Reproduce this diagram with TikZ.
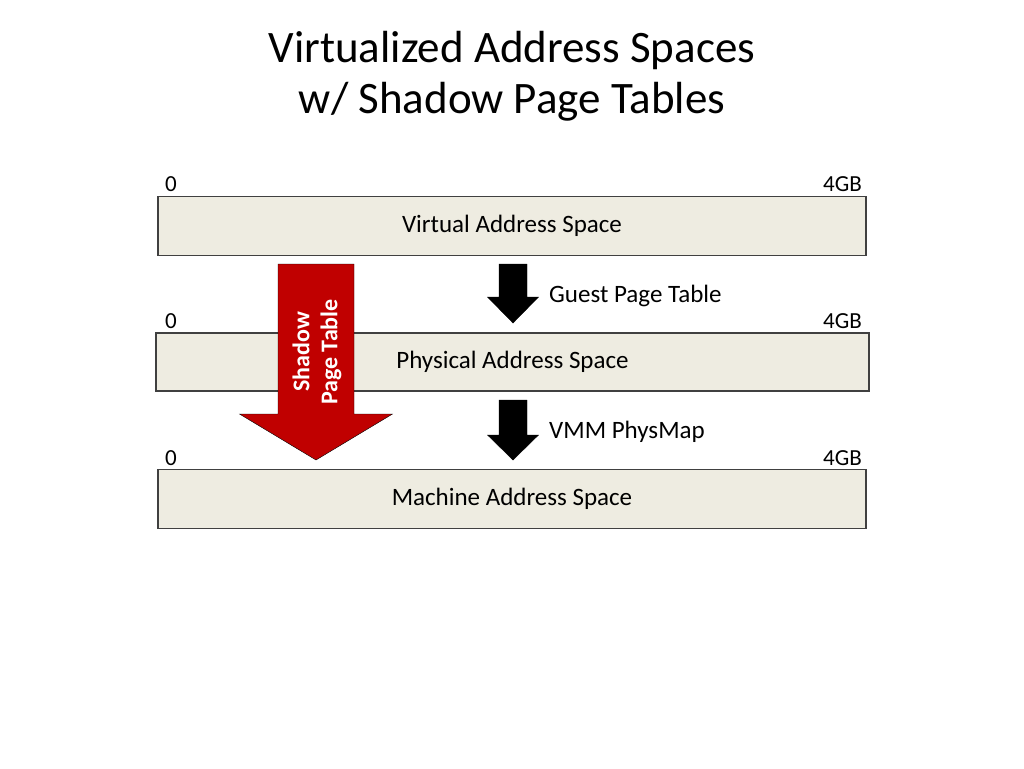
\documentclass[tikz,border=0pt]{standalone}
\usepackage{fontspec}
\setmainfont{Carlito}
\usetikzlibrary{calc}

\definecolor{spacefill}{HTML}{EEECE1}
\definecolor{shadowred}{HTML}{C00000}

\begin{document}
\begin{tikzpicture}[x=1pt,y=-1pt,
    title/.style={align=center,font=\fontsize{45}{51}\selectfont},
    space/.style={draw=black!75,line width=1.2pt,fill=spacefill,inner sep=0pt,
      minimum width=708pt,minimum height=59pt,font=\fontsize{25}{30}\selectfont},
    lbl/.style={inner sep=0pt,font=\fontsize{23}{28}\selectfont},
    maplbl/.style={inner sep=0pt,anchor=base west,font=\fontsize{25}{30}\selectfont},
    blockarrow/.style={fill=black},
    redarrow/.style={fill=shadowred}]
  \useasboundingbox (0,0) rectangle (1024,768);
  \node[title] (title) at (512,76) {Virtualized Address Spaces\\ w/ Shadow Page Tables};
  \node[space] (virt) at (512,226) {Virtual Address Space};
  \node[space,minimum width=713pt,minimum height=58pt] (phys) at (512.5,362) {Physical Address Space};
  \node[space] (mach) at (512,499) {Machine Address Space};
  % range ends
  \node[lbl,anchor=base west] (virt0) at (165,191) {0};
  \node[lbl,anchor=base east] (virt4) at (862,191) {4GB};
  \node[lbl,anchor=base west] (phys0) at (165,328) {0};
  \node[lbl,anchor=base east] (phys4) at (862,328) {4GB};
  \node[lbl,anchor=base west] (mach0) at (165,465) {0};
  \node[lbl,anchor=base east] (mach4) at (862,465) {4GB};
  % mappings
  \coordinate (gpt) at (513,264);
  \draw[blockarrow] (gpt) ++(-14,0) -- ++(28,0) -- ++(0,33) -- ++(11.5,0)
    -- (513,323) -- (487.5,297) -- ++(11.5,0) -- cycle;
  \node[maplbl] (gptlbl) at (549,302) {Guest Page Table};
  \coordinate (pmap) at (513,400);
  \draw[blockarrow] (pmap) ++(-14,0) -- ++(28,0) -- ++(0,35) -- ++(11.5,0)
    -- (513,460) -- (487.5,435) -- ++(11.5,0) -- cycle;
  \node[maplbl] (pmaplbl) at (549,438) {VMM PhysMap};
  \draw[redarrow] (278,264) -- (354,264) -- (354,414) -- (392.5,414)
    -- (316,460) -- (239.5,414) -- (278,414) -- cycle;
  \node[rotate=90,align=center,text=white,inner sep=0pt,
    font=\fontsize{24}{28}\selectfont\bfseries] (spt) at (317,352) {Shadow\\ Page Table};
\end{tikzpicture}
\end{document}
